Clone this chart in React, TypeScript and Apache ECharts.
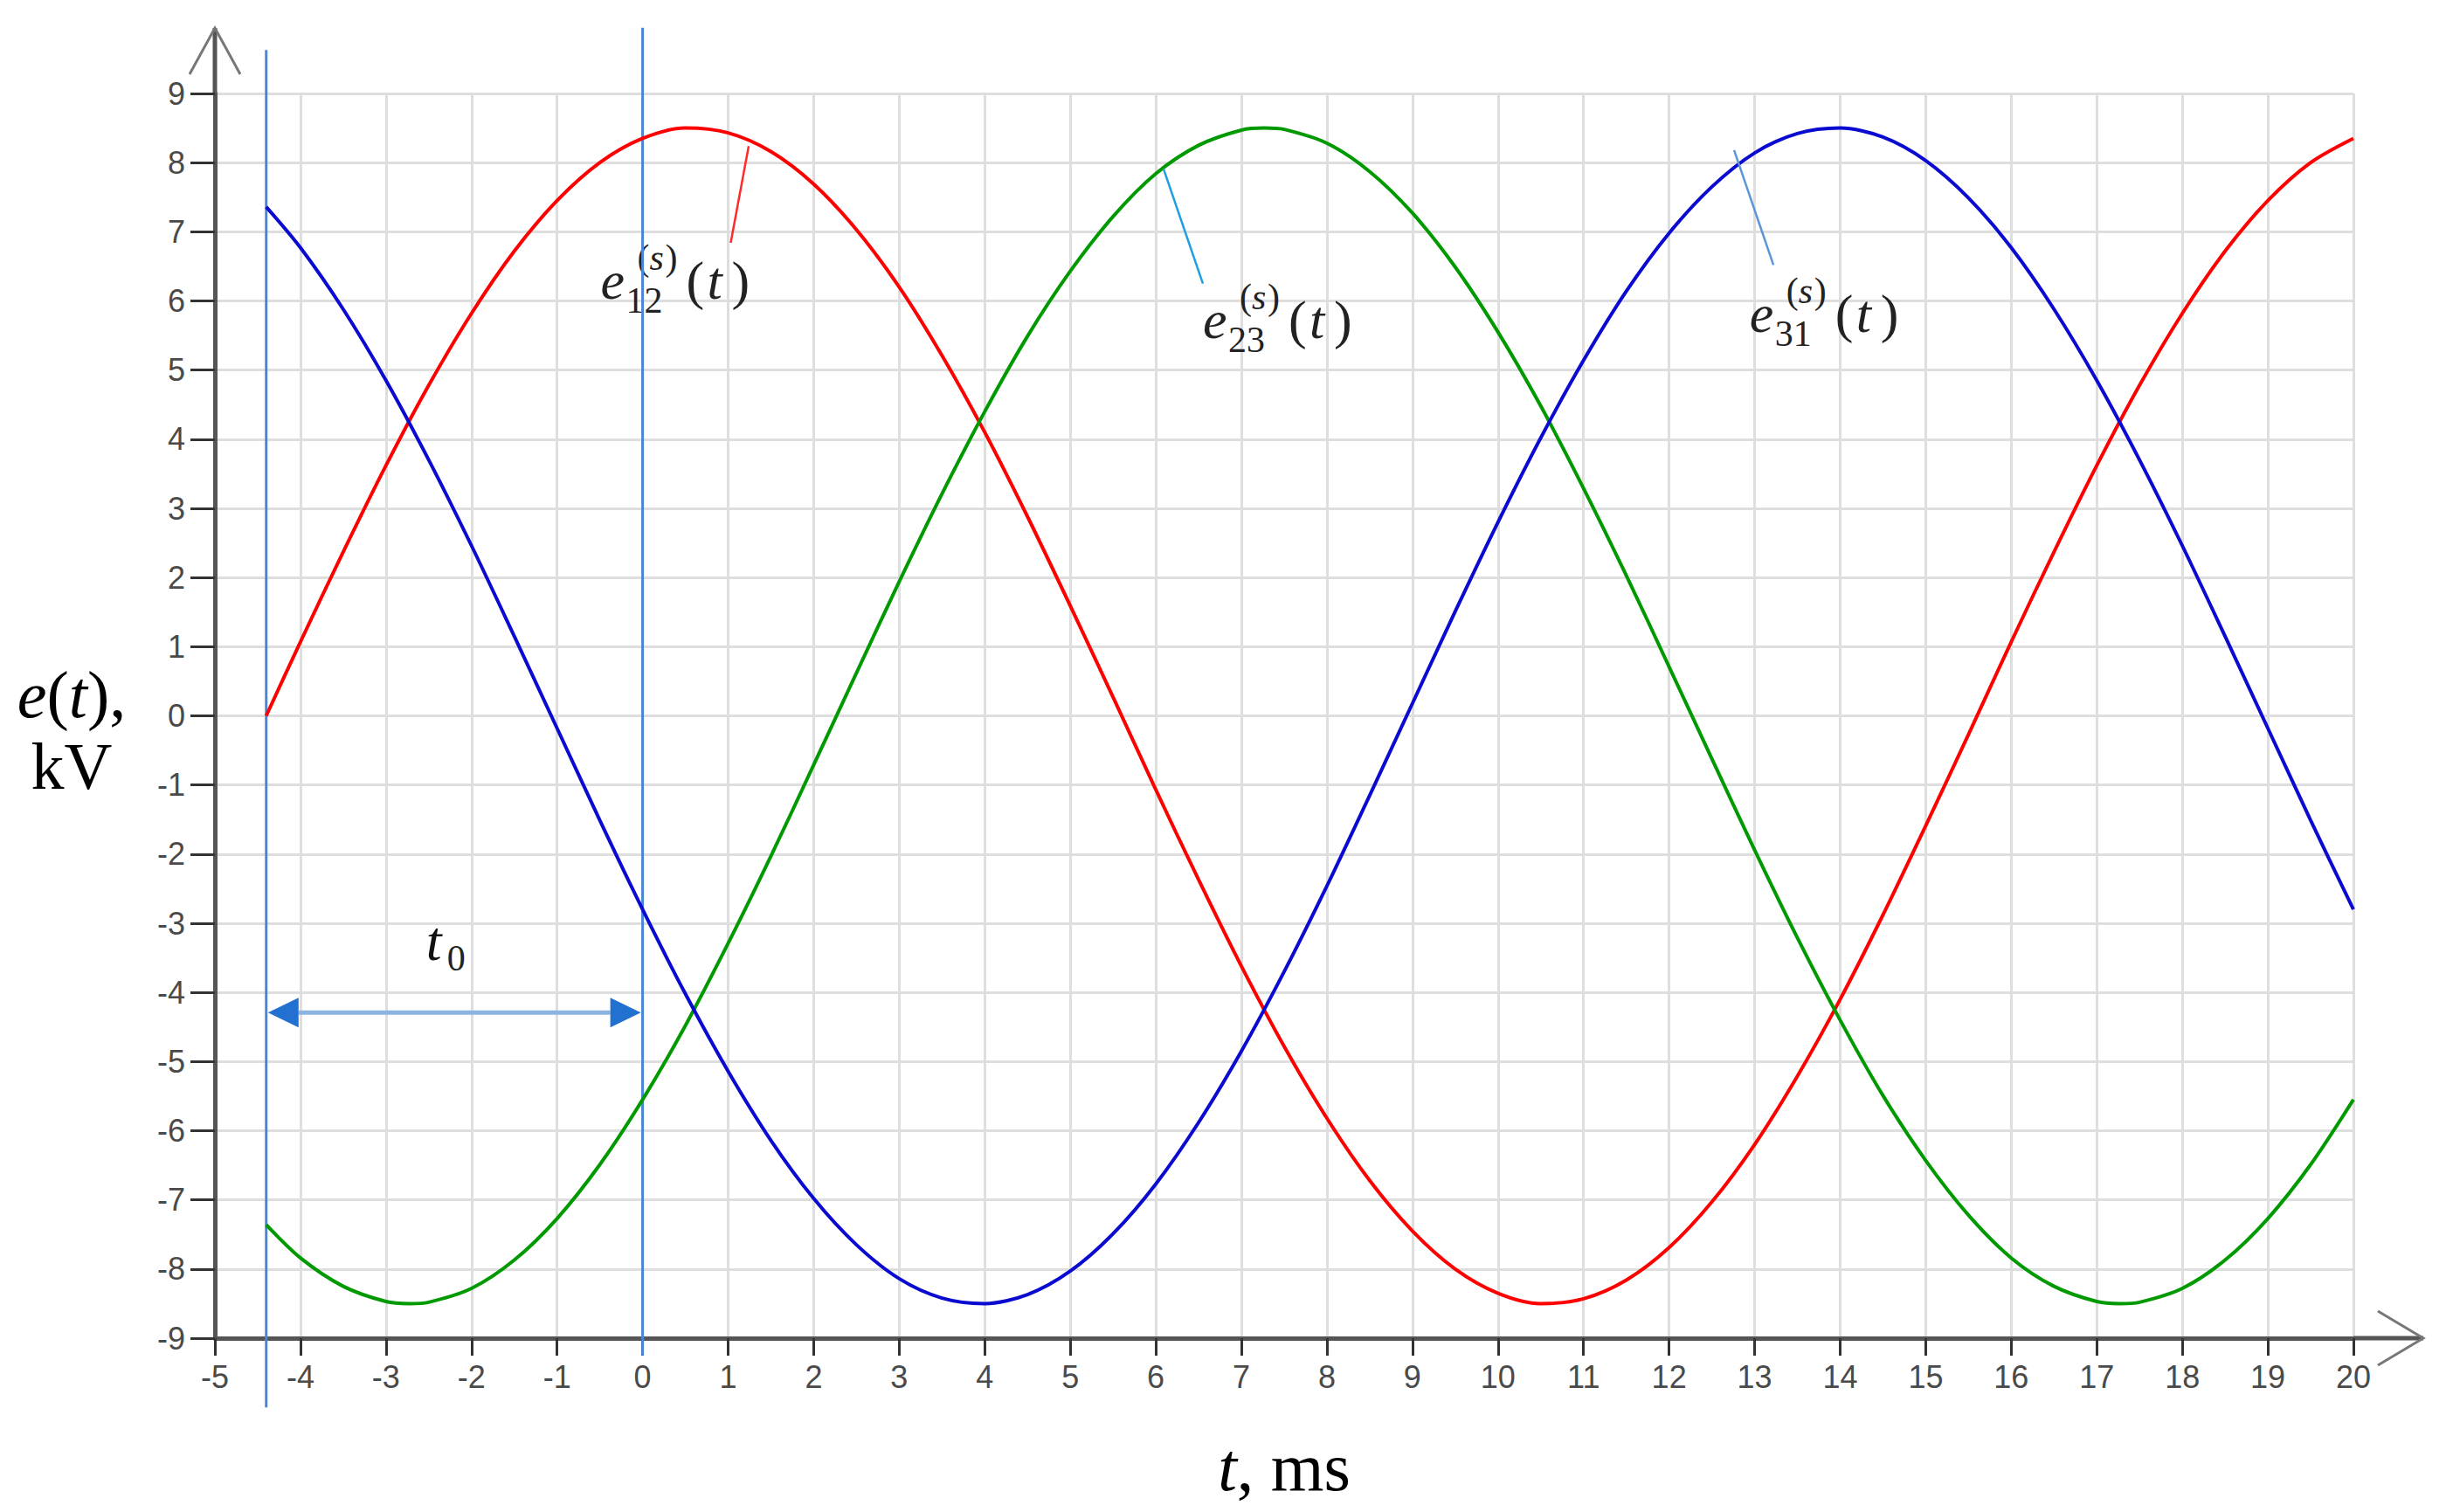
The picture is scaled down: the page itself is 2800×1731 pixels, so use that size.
import React, { useEffect, useRef } from "react";
import * as echarts from "echarts";

// time, ms (red and blue curves)
const times = [-4.4, -4, -3.5, -3, -2.5, -2, -1.5, -1, -0.5, 0, 0.5, 1, 1.5, 2, 2.5, 3, 3.5, 4, 4.5, 5, 5.5, 6, 6.5, 7, 7.5, 8, 8.5, 9, 9.5, 10, 10.5, 11, 11.5, 12, 12.5, 13, 13.5, 14, 14.5, 15, 15.5, 16, 16.5, 17, 17.5, 18, 18.5, 19, 19.5, 20];
// e12(s)(t), kV (red)
const e12 = [0, 1.07, 2.37, 3.62, 4.78, 5.82, 6.72, 7.45, 8.0, 8.35, 8.5, 8.43, 8.16, 7.69, 7.03, 6.2, 5.21, 4.1, 2.88, 1.59, 0.27, -1.07, -2.37, -3.62, -4.78, -5.82, -6.72, -7.45, -8.0, -8.35, -8.5, -8.43, -8.16, -7.69, -7.03, -6.2, -5.21, -4.1, -2.88, -1.59, -0.27, 1.07, 2.37, 3.62, 4.78, 5.82, 6.72, 7.45, 8.0, 8.35];
// e31(s)(t), kV (blue)
const e31 = [7.36, 6.77, 5.88, 4.85, 3.7, 2.46, 1.15, -0.18, -1.51, -2.8, -4.02, -5.14, -6.14, -6.98, -7.65, -8.14, -8.42, -8.5, -8.37, -8.03, -7.49, -6.77, -5.88, -4.85, -3.7, -2.46, -1.15, 0.18, 1.51, 2.8, 4.02, 5.14, 6.14, 6.98, 7.65, 8.14, 8.42, 8.5, 8.37, 8.03, 7.49, 6.77, 5.88, 4.85, 3.7, 2.46, 1.15, -0.18, -1.51, -2.8];
// time, ms (green curve, with its extremes)
const times23 = [-4.4, -4, -3.5, -3, -2.73, -2.5, -2, -1.5, -1, -0.5, 0, 0.5, 1, 1.5, 2, 2.5, 3, 3.5, 4, 4.5, 5, 5.5, 6, 6.5, 7, 7.27, 7.5, 8, 8.5, 9, 9.5, 10, 10.5, 11, 11.5, 12, 12.5, 13, 13.5, 14, 14.5, 15, 15.5, 16, 16.5, 17, 17.27, 17.5, 18, 18.5, 19, 19.5, 20];
// e23(s)(t), kV (green)
const e23 = [-7.36, -7.84, -8.25, -8.47, -8.5, -8.48, -8.28, -7.87, -7.27, -6.49, -5.55, -4.48, -3.29, -2.03, -0.71, 0.62, 1.94, 3.21, 4.4, 5.49, 6.43, 7.22, 7.84, 8.25, 8.47, 8.5, 8.48, 8.28, 7.87, 7.27, 6.49, 5.55, 4.48, 3.29, 2.03, 0.71, -0.62, -1.94, -3.21, -4.4, -5.49, -6.43, -7.22, -7.84, -8.25, -8.47, -8.5, -8.48, -8.28, -7.87, -7.27, -6.49, -5.55];

const xMin = -5, xMax = 20, yMin = -9, yMax = 9;
const t0Start = -4.4, t0End = 0, t0Level = -4.29;

const labels = [
  { sub: "12", at: [-0.49, 6.03], lead: [[1.24, 8.24], [1.03, 6.84]], leadColor: "#ff2a2a" },
  { sub: "23", at: [6.55, 5.46], lead: [[6.09, 7.91], [6.55, 6.25]], leadColor: "#1ea0e0" },
  { sub: "31", at: [12.94, 5.55], lead: [[12.76, 8.18], [13.22, 6.52]], leadColor: "#5b95d8" },
];

const SERIF = '"Liberation Serif", "DejaVu Serif", serif';

function txt(x: number, y: number, text: string, size: number, italic: boolean, fill = "#222", align = "left") {
  return {
    type: "text",
    x,
    y: y - 0.34 * size,
    silent: true,
    style: {
      text,
      fontSize: size,
      fontFamily: SERIF,
      fontStyle: italic ? "italic" : "normal",
      fill,
      align,
      textAlign: align,
      verticalAlign: "middle",
      textVerticalAlign: "middle",
    },
  };
}

export default function App() {
  const ref = useRef<HTMLDivElement>(null);
  useEffect(() => {
    document.body.style.margin = "0";
    const chart = echarts.init(ref.current!, null, { renderer: "svg" });
    const axisLabel = { fontSize: 36, color: "#4a4a4a", fontFamily: '"Liberation Sans", Arial, sans-serif' };
    const mk = (ts: number[], vals: number[], color: string, name: string) => ({
      type: "line",
      name,
      data: ts.map((t, i) => [t, vals[i]]),
      showSymbol: false,
      smooth: 0.3,
      clip: false,
      z: 3,
      lineStyle: { color, width: 4 },
    });
    chart.setOption({
      animation: false,
      backgroundColor: "#ffffff",
      grid: { left: 246, right: 106, top: 107, bottom: 199 },
      xAxis: {
        type: "value", min: xMin, max: xMax, interval: 1,
        axisLine: { onZero: false, lineStyle: { color: "#555", width: 5 } },
        axisTick: { length: 20, lineStyle: { color: "#333", width: 3 } },
        axisLabel: { ...axisLabel, margin: 26 },
        splitLine: { lineStyle: { color: "#dedede", width: 3 } },
      },
      yAxis: {
        type: "value", min: yMin, max: yMax, interval: 1,
        axisLine: { onZero: false, lineStyle: { color: "#555", width: 5 } },
        axisTick: { length: 28, lineStyle: { color: "#333", width: 3 } },
        axisLabel: { ...axisLabel, margin: 34 },
        splitLine: { lineStyle: { color: "#dedede", width: 3 } },
      },
      series: [
        mk(times, e12, "#ff0000", "e12"),
        mk(times23, e23, "#009a00", "e23"),
        mk(times, e31, "#0a0ad0", "e31"),
      ],
    });

    const P = (x: number, y: number) => chart.convertToPixel({ gridIndex: 0 }, [x, y]) as number[];
    const g: any[] = [];

    // axis extensions with open arrowheads
    const yTop = P(xMin, yMax);
    const yTip = [yTop[0], yTop[1] - 75];
    g.push({ type: "line", shape: { x1: yTop[0], y1: yTop[1], x2: yTip[0], y2: yTip[1] }, style: { stroke: "#555", lineWidth: 5 } });
    g.push({ type: "polyline", shape: { points: [[yTip[0] - 29, yTip[1] + 53], yTip, [yTip[0] + 29, yTip[1] + 53]] }, style: { stroke: "#777", lineWidth: 3, fill: null } });
    const xRight = P(xMax, yMin);
    const xTip = [xRight[0] + 80, xRight[1]];
    g.push({ type: "line", shape: { x1: xRight[0], y1: xRight[1], x2: xTip[0], y2: xTip[1] }, style: { stroke: "#555", lineWidth: 5 } });
    g.push({ type: "polyline", shape: { points: [[xTip[0] - 52, xTip[1] - 31], xTip, [xTip[0] - 52, xTip[1] + 31]] }, style: { stroke: "#777", lineWidth: 3, fill: null } });

    // vertical markers
    const v1a = P(t0Start, 9.63), v1b = P(t0Start, -10.0);
    const v2a = P(t0End, 9.95), v2b = P(t0End, -9.25);
    g.push({ type: "line", z: 2, shape: { x1: v1a[0], y1: v1a[1], x2: v1b[0], y2: v1b[1] }, style: { stroke: "#4a86d8", lineWidth: 3 } });
    g.push({ type: "line", z: 2, shape: { x1: v2a[0], y1: v2a[1], x2: v2b[0], y2: v2b[1] }, style: { stroke: "#4a86d8", lineWidth: 3 } });

    // t0 double arrow
    const a1 = P(t0Start, t0Level), a2 = P(t0End, t0Level);
    const al = 37, ah = 17;
    g.push({ type: "line", shape: { x1: a1[0] + al, y1: a1[1], x2: a2[0] - al, y2: a2[1] }, style: { stroke: "#8db3e2", lineWidth: 5 } });
    g.push({ type: "polygon", shape: { points: [[a1[0] + 2, a1[1]], [a1[0] + al, a1[1] - ah], [a1[0] + al, a1[1] + ah]] }, style: { fill: "#2270d0" } });
    g.push({ type: "polygon", shape: { points: [[a2[0] - 2, a2[1]], [a2[0] - al, a2[1] - ah], [a2[0] - al, a2[1] + ah]] }, style: { fill: "#2270d0" } });
    const t0p = P(-2.53, -3.54);
    g.push(txt(t0p[0], t0p[1], "t", 64, true, "#111"));
    g.push(txt(t0p[0] + 24, t0p[1] + 12, "0", 42, false, "#222"));

    // series labels
    labels.forEach((l) => {
      const p1 = P(l.lead[0][0], l.lead[0][1]), p2 = P(l.lead[1][0], l.lead[1][1]);
      g.push({ type: "line", z: 4, shape: { x1: p1[0], y1: p1[1], x2: p2[0], y2: p2[1] }, style: { stroke: l.leadColor, lineWidth: 2.5 } });
      const [x, y] = P(l.at[0], l.at[1]);
      g.push(txt(x, y, "e", 62, true));
      g.push(txt(x + 29, y + 16, l.sub, 42, false));
      g.push(txt(x + 42, y - 33, "(", 42, false));
      g.push(txt(x + 56, y - 33, "s", 42, true));
      g.push(txt(x + 74, y - 33, ")", 42, false));
      g.push(txt(x + 98, y, "(", 62, false));
      g.push(txt(x + 122, y, "t", 62, true));
      g.push(txt(x + 150, y, ")", 62, false));
    });

    // axis titles
    const serifRich = (size: number) => ({ i: { fontStyle: "italic", fontSize: size, fontFamily: SERIF, fill: "#000" }, n: { fontSize: size, fontFamily: SERIF, fill: "#000" } });
    g.push({ type: "text", x: 82, y: 795, silent: true, style: { text: "{i|e}{n|(}{i|t}{n|),}", rich: serifRich(76), fontSize: 76, fontFamily: SERIF, fill: "#000", align: "center", textAlign: "center", verticalAlign: "middle", textVerticalAlign: "middle" } });
    g.push({ type: "text", x: 82, y: 877, silent: true, style: { text: "kV", fontSize: 76, fontFamily: SERIF, fill: "#000", align: "center", textAlign: "center", verticalAlign: "middle", textVerticalAlign: "middle" } });
    const xt = P((xMin + xMax) / 2, yMin);
    g.push({ type: "text", x: xt[0], y: 1679, silent: true, style: { text: "{i|t}{n|, ms}", rich: serifRich(78), fontSize: 78, fontFamily: SERIF, fill: "#000", align: "center", textAlign: "center", verticalAlign: "middle", textVerticalAlign: "middle" } });

    chart.setOption({ graphic: g });
    return () => chart.dispose();
  }, []);
  return <div ref={ref} style={{ width: 2800, height: 1731 }} />;
}
